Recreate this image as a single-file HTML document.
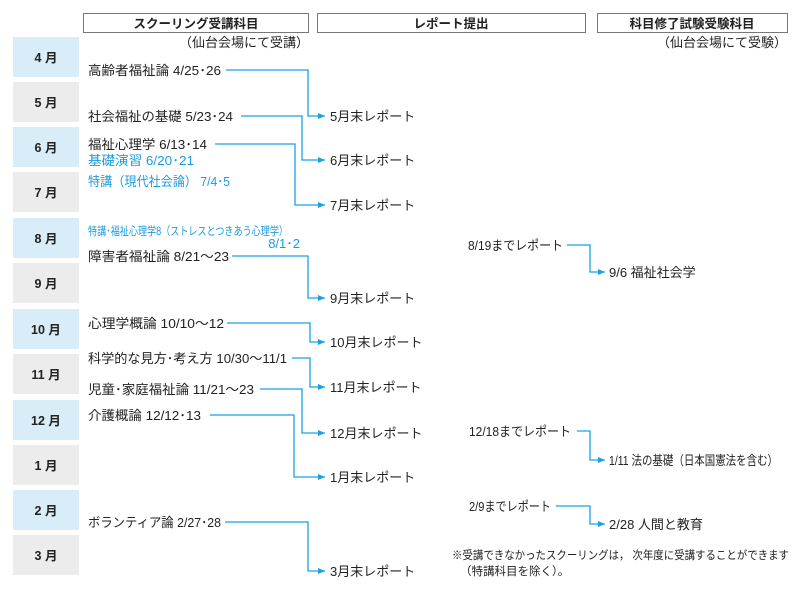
<!DOCTYPE html>
<html><head><meta charset="utf-8"><style>
body{margin:0;background:#fff;}
svg text{font-family:"Liberation Sans","Noto Sans CJK JP",sans-serif;font-size:13px;fill:#222;}
.b{fill:#1a9be0 !important}
.m{font-weight:bold;font-size:12.5px}
.h{font-weight:bold;font-size:12.5px}
</style></head><body>
<svg width="800" height="586" viewBox="0 0 800 586" xmlns="http://www.w3.org/2000/svg">
<defs><marker id="a" markerWidth="8" markerHeight="8" refX="7" refY="4" orient="auto" markerUnits="userSpaceOnUse"><path d="M0,1 L7,4 L0,7 Z" fill="#1aa0e6"/></marker></defs>
<g fill="none" stroke="#777" stroke-width="1">
<rect x="83.5" y="13.5" width="225" height="19"/>
<rect x="317.5" y="13.5" width="268" height="19"/>
<rect x="597.5" y="13.5" width="190" height="19"/>
</g>
<text x="196" y="28" text-anchor="middle" class="h">スクーリング受講科目</text>
<text x="451" y="28" text-anchor="middle" class="h">レポート提出</text>
<text x="692" y="28" text-anchor="middle" class="h">科目修了試験受験科目</text>
<text x="309" y="47" text-anchor="end">（仙台会場にて受講）</text>
<text x="787" y="47" text-anchor="end">（仙台会場にて受験）</text>
<g>
<rect x="13" y="37" width="66" height="40" fill="#d8edf8"/>
<rect x="13" y="82" width="66" height="40" fill="#ececec"/>
<rect x="13" y="127" width="66" height="40" fill="#d8edf8"/>
<rect x="13" y="172" width="66" height="40" fill="#ececec"/>
<rect x="13" y="218" width="66" height="40" fill="#d8edf8"/>
<rect x="13" y="263" width="66" height="40" fill="#ececec"/>
<rect x="13" y="309" width="66" height="40" fill="#d8edf8"/>
<rect x="13" y="354" width="66" height="40" fill="#ececec"/>
<rect x="13" y="400" width="66" height="40" fill="#d8edf8"/>
<rect x="13" y="445" width="66" height="40" fill="#ececec"/>
<rect x="13" y="490" width="66" height="40" fill="#d8edf8"/>
<rect x="13" y="535" width="66" height="40" fill="#ececec"/>
</g>
<g text-anchor="middle">
<text x="46" y="62" class="m">4 月</text>
<text x="46" y="107" class="m">5 月</text>
<text x="46" y="152" class="m">6 月</text>
<text x="46" y="197" class="m">7 月</text>
<text x="46" y="243" class="m">8 月</text>
<text x="46" y="288" class="m">9 月</text>
<text x="46" y="334" class="m">10 月</text>
<text x="46" y="379" class="m">11 月</text>
<text x="46" y="425" class="m">12 月</text>
<text x="46" y="470" class="m">1 月</text>
<text x="46" y="515" class="m">2 月</text>
<text x="46" y="560" class="m">3 月</text>
</g>
<text x="88" y="75" textLength="133" lengthAdjust="spacingAndGlyphs">高齢者福祉論 4/25･26</text>
<text x="88" y="121" textLength="145" lengthAdjust="spacingAndGlyphs">社会福祉の基礎 5/23･24</text>
<text x="88" y="149" textLength="119" lengthAdjust="spacingAndGlyphs">福祉心理学 6/13･14</text>
<text x="88" y="165" class="b" textLength="106" lengthAdjust="spacingAndGlyphs">基礎演習 6/20･21</text>
<text x="88" y="186" class="b" textLength="142" lengthAdjust="spacingAndGlyphs">特講（現代社会論） 7/4･5</text>
<text x="88" y="235" class="b" style="font-size:11.5px" textLength="200" lengthAdjust="spacingAndGlyphs">特講･福祉心理学8（ストレスとつきあう心理学）</text>
<text x="300" y="248" class="b" text-anchor="end">8/1･2</text>
<text x="88" y="261" textLength="141" lengthAdjust="spacingAndGlyphs">障害者福祉論 8/21～23</text>
<text x="88" y="328" textLength="136" lengthAdjust="spacingAndGlyphs">心理学概論 10/10～12</text>
<text x="88" y="363" textLength="199" lengthAdjust="spacingAndGlyphs">科学的な見方･考え方 10/30～11/1</text>
<text x="88" y="394" textLength="166" lengthAdjust="spacingAndGlyphs">児童･家庭福祉論 11/21～23</text>
<text x="88" y="420" textLength="113" lengthAdjust="spacingAndGlyphs">介護概論 12/12･13</text>
<text x="88" y="527" textLength="133" lengthAdjust="spacingAndGlyphs">ボランティア論 2/27･28</text>
<text x="330" y="121">5月末レポート</text>
<text x="330" y="165">6月末レポート</text>
<text x="330" y="210">7月末レポート</text>
<text x="330" y="303">9月末レポート</text>
<text x="330" y="347">10月末レポート</text>
<text x="330" y="392">11月末レポート</text>
<text x="330" y="438">12月末レポート</text>
<text x="330" y="482">1月末レポート</text>
<text x="330" y="576">3月末レポート</text>
<text x="468" y="250" textLength="95" lengthAdjust="spacingAndGlyphs">8/19までレポート</text>
<text x="609" y="277">9/6 福祉社会学</text>
<text x="469" y="436" textLength="102" lengthAdjust="spacingAndGlyphs">12/18までレポート</text>
<text x="609" y="465" textLength="169" lengthAdjust="spacingAndGlyphs">1/11 法の基礎（日本国憲法を含む）</text>
<text x="469" y="511" textLength="82" lengthAdjust="spacingAndGlyphs">2/9までレポート</text>
<text x="609" y="529">2/28 人間と教育</text>
<text x="452" y="559" style="font-size:11.5px" textLength="337" lengthAdjust="spacingAndGlyphs">※受講できなかったスクーリングは， 次年度に受講することができます</text>
<text x="460" y="575" style="font-size:11.5px">（特講科目を除く）。</text>
<g fill="none" stroke="#1aa0e6" stroke-width="1.3" marker-end="url(#a)">
<polyline points="226,70 308,70 308,116 325,116"/>
<polyline points="241,116 302,116 302,160 325,160"/>
<polyline points="215,144 295,144 295,205 325,205"/>
<polyline points="232,256 308,256 308,298 325,298"/>
<polyline points="227,323 310,323 310,342 325,342"/>
<polyline points="292,358 310,358 310,387 325,387"/>
<polyline points="260,389 302,389 302,433 325,433"/>
<polyline points="210,415 294,415 294,477 325,477"/>
<polyline points="225,522 308,522 308,571 325,571"/>
<polyline points="567,245 590,245 590,272 605,272"/>
<polyline points="577,431 590,431 590,460 605,460"/>
<polyline points="556,506 590,506 590,524 605,524"/>
</g>
</svg>
</body></html>
